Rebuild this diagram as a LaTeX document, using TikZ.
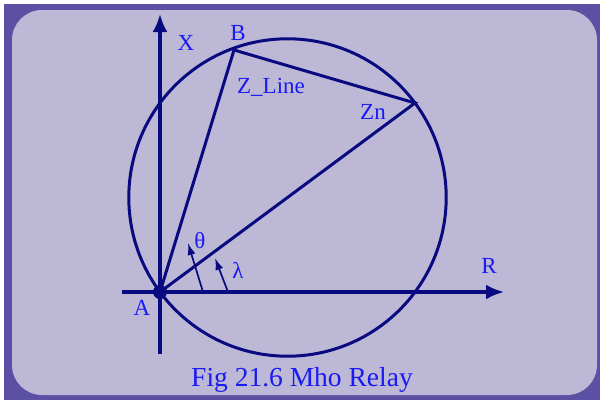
\documentclass[tikz,border=0pt]{standalone}
\usepackage{fontspec}
\setmainfont{Liberation Serif}
\usetikzlibrary{arrows.meta}
\definecolor{frame}{HTML}{5C50A4}
\definecolor{panel}{HTML}{BCB8D6}
\definecolor{navy}{HTML}{0A0A80}
\definecolor{ink}{HTML}{1A1AF2}
\tikzset{
  every node/.style={font=\fontsize{23}{25}\selectfont,text=ink,inner sep=0pt},
  caption/.style={font=\fontsize{27.5}{30}\selectfont},
  axis/.style={-{Latex[length=18pt,width=15pt]},line width=3.3pt,draw=navy},
  chord/.style={line width=3pt,draw=navy},
  angarrow/.style={-{Latex[length=12pt,width=8pt]},line width=1.7pt,draw=navy},
}
\begin{document}
\begin{tikzpicture}[x=1pt,y=-1pt]
\path[use as bounding box] (0,0) rectangle (600,400);
\fill[white] (0,0) rectangle (600,400);
\fill[frame] (4,4) rectangle (600,400);
\fill[panel,rounded corners=30pt] (12,10) rectangle (597,395);
% impedance plane
\coordinate (A) at (160,292);
\coordinate (O) at (287.5,197.5);
\coordinate (B) at (234,50);
\coordinate (Zn) at (415,103);
\coordinate (Xbot) at (160,354);
\coordinate (Xtop) at (160,14);
\coordinate (Rleft) at (122,292);
\coordinate (Rright) at (504,292);
\draw[axis] (Xbot) -- (Xtop);
\draw[axis] (Rleft) -- (Rright);
% mho circle, diameter A--Zn
\draw[chord] (O) circle[radius=158.7pt];
\draw[chord] (A) -- (B) -- (Zn) -- cycle;
\fill[navy] (A) circle[radius=7pt];
% angle markers
\coordinate (thS) at (203,292);
\coordinate (thE) at (188,243);
\coordinate (laS) at (228,292);
\coordinate (laE) at (215,258);
\draw[angarrow] (thS) -- (thE);
\draw[angarrow] (laS) -- (laE);
% labels
\node (labX) at (186,43) {X};
\node (labB) at (238,33) {B};
\node (labLine) at (271,87) {Z\_Line};
\node (labZn) at (373,112) {Zn};
\node (labTh) at (200,241) {θ};
\node (labLa) at (238,270) {λ};
\node (labR) at (489,266) {R};
\node (labA) at (142,308) {A};
\node[caption] (cap) at (302,380) {Fig 21.6 Mho Relay};
\end{tikzpicture}
\end{document}
